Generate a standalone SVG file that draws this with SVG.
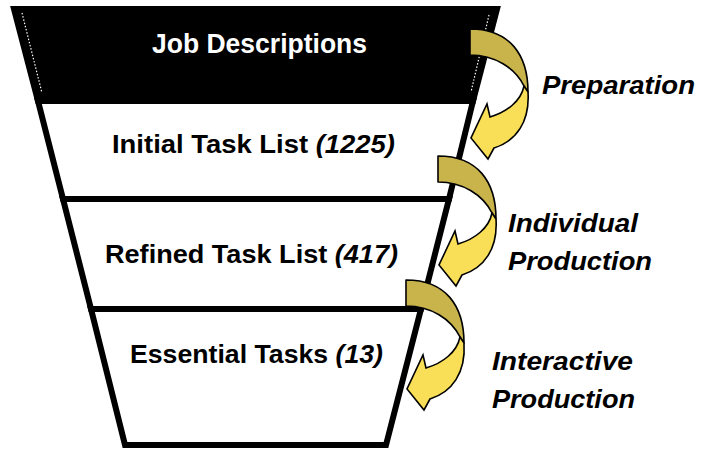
<svg xmlns="http://www.w3.org/2000/svg" xmlns:xlink="http://www.w3.org/1999/xlink" width="705" height="449" viewBox="0 0 705 449">
<style>
.band{fill:#ffffff;stroke:#000000;stroke-width:6;stroke-linejoin:miter}
.lbl{font-family:"Liberation Sans",Arial,sans-serif;font-weight:bold;font-size:26px;fill:#000000}
.it{font-style:italic}
.side{font-family:"Liberation Sans",Arial,sans-serif;font-weight:bold;font-style:italic;font-size:25px;fill:#000000}
.back{fill:#C9B34B;stroke:#000000;stroke-width:1.6;stroke-linejoin:round}
.front{fill:#F9DE57;stroke:#000000;stroke-width:1.6;stroke-linejoin:miter}
.dots{stroke:#ffffff;stroke-width:1.2;stroke-dasharray:1.5 1.8;fill:none}
</style>
<defs>
<g id="curved-arrow">
<path class="back" d="M470,29 C510,29 528,55 528,92 L524,86 C515,68 495,55 470,55 Z"/>
<path class="front" d="M524,86 C521,101 507,112 490,117 L487,104 L471,138 L488,159 L494,148 C516,141 530,122 528,92 Z"/>
</g>
</defs>
<rect x="0" y="0" width="705" height="449" fill="#ffffff"/>
<g id="node-job-descriptions">
<polygon points="14,9 497,9 473,101 38,101" fill="#000000" stroke="#000000" stroke-width="6" stroke-linejoin="miter"/>
<line class="dots" x1="22" y1="13" x2="42" y2="93"/>
<line class="dots" x1="489" y1="15" x2="471" y2="92"/>
<text x="259.5" y="53" text-anchor="middle" font-family="Liberation Sans, Arial, sans-serif" font-weight="bold" font-size="27" fill="#ffffff" textLength="215" lengthAdjust="spacingAndGlyphs">Job Descriptions</text>
</g>
<g id="node-initial-task-list">
<polygon class="band" points="38,101 473,101 449,199 63,199"/>
<text class="lbl" x="253.5" y="153" text-anchor="middle" textLength="283" lengthAdjust="spacingAndGlyphs">Initial Task List <tspan class="it">(1225)</tspan></text>
</g>
<g id="node-refined-task-list">
<polygon class="band" points="63,199 449,199 421,309 91,309"/>
<text class="lbl" x="251.5" y="263" text-anchor="middle" textLength="293" lengthAdjust="spacingAndGlyphs">Refined Task List <tspan class="it">(417)</tspan></text>
</g>
<g id="node-essential-tasks">
<polygon class="band" points="91,309 421,309 386,445 125,445"/>
<text class="lbl" x="256.5" y="363" text-anchor="middle" textLength="253" lengthAdjust="spacingAndGlyphs">Essential Tasks <tspan class="it">(13)</tspan></text>
</g>
<g id="connectors">
<use xlink:href="#curved-arrow" href="#curved-arrow"/>
<use xlink:href="#curved-arrow" href="#curved-arrow" transform="translate(-32,127)"/>
<use xlink:href="#curved-arrow" href="#curved-arrow" transform="translate(-64,251)"/>
</g>
<g id="labels">
<text class="side" x="542" y="94" textLength="153" lengthAdjust="spacingAndGlyphs">Preparation</text>
<text class="side" x="508" y="232" textLength="130" lengthAdjust="spacingAndGlyphs">Individual</text>
<text class="side" x="508" y="270" textLength="144" lengthAdjust="spacingAndGlyphs">Production</text>
<text class="side" x="492" y="370" textLength="141" lengthAdjust="spacingAndGlyphs">Interactive</text>
<text class="side" x="492" y="408" textLength="143" lengthAdjust="spacingAndGlyphs">Production</text>
</g>
</svg>
